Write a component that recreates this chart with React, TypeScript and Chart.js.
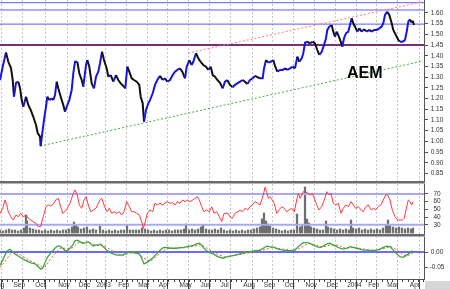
import React, { useEffect, useRef } from "react";
import { Chart, registerables } from "chart.js";

Chart.register(...registerables);

// x unit: trading-session index starting mid-August 2002
const monthTickDays = [-8.9, 12, 33.7, 56.7, 77.3, 95, 116.7, 136.7, 157.3, 178, 199, 219, 241.7, 262.3, 283.3, 304, 325, 345.7, 366.7, 385.7, 408.3];
const monthLabels = ["Aug", "Sep", "Oct", "Nov", "Dec", "2003", "Feb", "Mar", "Apr", "May", "Jun", "Jul", "Aug", "Sep", "Oct", "Nov", "Dec", "2004", "Feb", "Mar", "Apr"];

const priceTicks = [0.85, 0.9, 0.95, 1.0, 1.05, 1.1, 1.15, 1.2, 1.25, 1.3, 1.35, 1.4, 1.45, 1.5, 1.55, 1.6];
const rsiTicks = [30, 40, 50, 60, 70];
const macdTicks = [-0.05, 0];

const pricePoints: [number, number][] = [
  [0, 1.287], [2.7, 1.349], [5, 1.396], [6, 1.415], [8.3, 1.372], [11, 1.343], [12.7, 1.287], [14, 1.209], [16, 1.273], [18.3, 1.279], [20, 1.25], [21.7, 1.193], [23.3, 1.162], [26, 1.209], [28.3, 1.17], [30.7, 1.147], [33.3, 1.115], [36, 1.077], [37.7, 1.039], [40, 1.022], [40.7, 0.978], [42.3, 1.039], [44, 1.1], [46, 1.162], [47.3, 1.209], [49.3, 1.193], [51.7, 1.201], [53.3, 1.193], [55, 1.217], [56.7, 1.279], [58.3, 1.248], [60.7, 1.209], [63.3, 1.17], [65, 1.139], [66.7, 1.162], [69.3, 1.193], [71.7, 1.24], [73.3, 1.318], [75, 1.372], [77.3, 1.372], [79.3, 1.318], [81.7, 1.287], [83.3, 1.256], [86, 1.357], [87.3, 1.38], [89.3, 1.349], [91.7, 1.271], [94, 1.248], [96, 1.302], [98.3, 1.326], [100, 1.365], [102, 1.419], [104, 1.38], [106.7, 1.341], [108.3, 1.302], [110.7, 1.31], [113.3, 1.279], [116, 1.31], [118.3, 1.287], [120.7, 1.271], [123.3, 1.259], [125.3, 1.248], [127.3, 1.349], [129.3, 1.326], [131.7, 1.295], [134, 1.287], [136.7, 1.279], [139.3, 1.264], [140.7, 1.209], [142.7, 1.178], [144, 1.092], [146, 1.147], [148.3, 1.178], [150, 1.193],
  [152.7, 1.225], [155, 1.264], [157.3, 1.287], [160, 1.306], [162.7, 1.287], [165, 1.295], [167.3, 1.279], [170, 1.287], [172.7, 1.31], [175, 1.326], [177.3, 1.334], [180, 1.341], [182.3, 1.326], [185, 1.295], [186.7, 1.349], [189.3, 1.38], [191.7, 1.357], [193.3, 1.372], [196, 1.412], [198.3, 1.388], [200.7, 1.372], [203.3, 1.357], [206, 1.349], [208.3, 1.334], [210.7, 1.349], [212.7, 1.31], [215, 1.302], [217.3, 1.287], [220, 1.274], [222.7, 1.248], [225, 1.279], [227.3, 1.287], [230, 1.264], [232.7, 1.253], [235, 1.264], [237.3, 1.271], [240, 1.279], [242.7, 1.287], [245, 1.279], [247.3, 1.268], [250, 1.287], [252.7, 1.295], [255, 1.306], [257.3, 1.3], [260, 1.295], [262.7, 1.295], [264, 1.341], [266, 1.38], [268.3, 1.368], [270.7, 1.372], [273.3, 1.38], [275.3, 1.349], [277.3, 1.326], [280, 1.334], [282.7, 1.334], [285, 1.341], [287.3, 1.334], [290, 1.341], [292.7, 1.349], [295, 1.341], [297.3, 1.396], [299.3, 1.372],
  [301.7, 1.388], [303.3, 1.412], [305, 1.461], [307.3, 1.466], [310, 1.458], [312.7, 1.466], [315, 1.458], [317.3, 1.427], [319.3, 1.404], [321.7, 1.419], [324, 1.45], [326, 1.482], [327.3, 1.521], [329.3, 1.536], [331.7, 1.544], [333.3, 1.513], [335, 1.489], [336.7, 1.513], [338.3, 1.497], [340.7, 1.466], [342.3, 1.442], [344, 1.482], [346, 1.505], [348.3, 1.513], [350, 1.544], [351.7, 1.575], [353.3, 1.552], [355, 1.536], [357.3, 1.513], [359.3, 1.528], [361.7, 1.513], [364, 1.524], [366.7, 1.513], [369.3, 1.521], [371.7, 1.513], [374, 1.521], [376.7, 1.521], [379.3, 1.528], [381.7, 1.536], [383.3, 1.552], [385, 1.591], [387.3, 1.606], [389.3, 1.591], [391.7, 1.552], [393.3, 1.521], [395, 1.505], [396.7, 1.489], [398.3, 1.474], [400, 1.466], [402.7, 1.466], [405, 1.474], [406.7, 1.513], [408.3, 1.559], [410, 1.57], [411.7, 1.555], [412.7, 1.564], [414, 1.544],
];

const resistanceLevels = [1.648, 1.614, 1.548];
const supportLevel = 1.45;
const upperTrendDays = [188, 423];
const upperTrendValues = [1.413, 1.653];
const lowerTrendDays = [40, 423];
const lowerTrendValues = [0.978, 1.376];

const rsiPoints: [number, number][] = [
  [0, 44.8], [2.7, 51.4], [5, 62.2], [6.7, 55.7], [8.3, 46.9], [10.7, 40.4], [13.3, 36.1], [16, 42.6], [18.3, 40.4], [20.7, 44.8], [23.3, 40.4], [26, 42.6], [28.3, 38.3], [30.7, 36.1], [33.3, 33.9], [36, 31.8], [38.3, 27.4], [40.7, 27.4], [42.7, 38.3], [44.3, 44.8], [46, 53.5], [48.3, 55.7], [50.7, 54.4], [53.3, 57], [56, 62.2], [58.3, 64.4], [60.7, 53.5], [62.7, 44.8], [65, 46.9], [67.3, 51.4], [70, 57.9], [72.7, 68.7], [75, 75.2], [77.3, 68.7], [79.3, 55.7], [81.7, 51.4], [84, 62.2], [86, 66.5], [88.3, 55.7], [90.7, 46.9], [93.3, 49.2], [96, 51.4], [98.3, 57.9], [100, 62.2], [101.7, 64.4], [104, 55.7], [106.7, 46.9], [109.3, 51.4], [111.7, 44.8], [114, 46.9], [116.7, 44.8], [119.3, 46.9], [121.7, 42.6], [124, 46.9], [126.7, 60], [129.3, 53.5], [131.7, 46.9], [134, 46.9], [136.7, 44.8], [139.3, 42.6], [141.7, 33.9], [143.3, 25.3], [145.3, 33.9], [147.3, 44.8], [150, 49.2], [152.7, 46.9], [155, 57.9], [157.3, 55.7], [160, 57.9], [162.7, 55.7], [165, 57.9], [167.3, 60], [170, 57.9], [172.7, 58.7], [175, 55.7], [177.3, 60], [180, 57.9], [182.7, 62.2], [185, 60], [187.3, 62.2], [190, 60], [192.7, 62.2], [195, 64.4], [197.3, 66.5], [199.3, 62.2], [201.7, 53.5], [204, 46.9], [206.7, 49.2], [209.3, 46.9], [211.7, 53.5], [214, 44.8], [216.7, 46.9], [219.3, 40.4], [221.7, 33.9], [224, 44.8],
  [227.7, 44.8], [230, 40.4], [232.3, 38.3], [235, 44.8], [237.7, 46.9], [240, 49.2], [242.3, 46.9], [245, 51.4], [247.7, 49.2], [250, 53.5], [252.3, 55.7], [255, 60], [257.7, 57.9], [260, 55.7], [261.7, 62.2], [263.3, 68.7], [265, 78.7], [266.7, 73], [268.3, 64.4], [270, 66.5], [272.3, 62.2], [274.3, 57.9], [276.7, 44.8], [279, 49.2], [281.7, 53.5], [284.3, 51.4], [286.7, 46.9], [289, 49.2], [291.7, 51.4], [294.3, 46.9], [296.7, 62.2], [298.3, 70.9], [300, 64.4], [301.7, 68.7], [303.3, 73], [305, 73], [307.7, 70.9], [310, 68.7], [312.3, 70.9], [314.3, 64.4], [316.7, 55.7], [319, 49.2], [321.7, 53.5], [324.3, 62.2], [326.7, 73], [329, 68.7], [331, 70.9], [333.3, 57.9], [335.7, 55.7], [338.3, 57.9], [341, 44.8], [343.3, 51.4], [345.7, 55.7], [348.3, 53.5], [351, 60], [353.3, 55.7], [355.7, 51.4], [358.3, 53.5], [361, 49.2], [363.3, 46.9], [365.7, 53.5], [368.3, 55.7], [371, 49.2], [373.3, 51.4], [375.7, 49.2], [378.3, 53.5], [381, 55.7], [383.3, 62.2], [385.7, 68.7], [387.7, 68.7], [390, 62.2], [392.3, 49.2], [395, 40.4], [397.7, 36.1], [400, 36.1], [402.3, 36.1], [404.3, 38.3], [406.7, 53.5], [408.3, 62.2], [410, 60], [411.7, 55.7], [413, 60],
];
const rsiLevels = [70, 30];

// volume (arbitrary units)
const volumePoints: [number, number][] = [
  [0, 3], [3, 2], [6, 3], [9, 4], [12, 3], [15, 3], [18, 2], [21, 3], [24, 5], [26, 18], [27, 12], [30, 5], [33, 4], [36, 3], [39, 3], [42, 2], [45, 3], [48, 2], [51, 3], [54, 2], [57, 3], [60, 2], [63, 3], [66, 3], [69, 4], [72, 6], [74, 11], [76, 8], [78, 6], [81, 4], [84, 5], [87, 6], [90, 3], [93, 4], [96, 3], [100, 7], [103, 3], [106, 2], [109, 3], [112, 2], [115, 3], [118, 2], [121, 3], [124, 3], [127, 8], [130, 3], [133, 3], [136, 3], [139, 3], [142, 5], [145, 4], [148, 3], [151, 2], [154, 3], [157, 2], [160, 3], [163, 2], [166, 3], [169, 3], [172, 2], [175, 3], [178, 3], [181, 3], [184, 4], [186, 9], [189, 3], [192, 4], [195, 3], [198, 4], [201, 6], [203, 8], [206, 4], [209, 3], [212, 3], [215, 4], [218, 3], [221, 5], [224, 3],
  [227, 2], [230, 3], [233, 2], [236, 3], [239, 2], [242, 3], [245, 2], [248, 3], [251, 3], [254, 4], [257, 5], [260, 6], [262, 14], [264, 20], [266, 12], [268, 9], [270, 7], [273, 5], [276, 4], [279, 3], [282, 2], [285, 3], [288, 2], [291, 3], [294, 3], [297, 19], [300, 6], [302, 7], [305, 46], [307, 14], [309, 10], [311, 6], [314, 5], [317, 4], [320, 3], [323, 3], [326, 12], [328, 6], [331, 5], [334, 4], [337, 3], [340, 4], [343, 3], [346, 4], [349, 3], [351, 13], [353, 5], [356, 4], [359, 5], [362, 3], [365, 4], [368, 3], [371, 4], [374, 3], [377, 4], [380, 3], [383, 5], [386, 8], [388, 13], [390, 7], [393, 6], [396, 5], [399, 6], [402, 5], [405, 4], [408, 5], [411, 4], [413, 5],
];

const macdPoints: [number, number][] = [
  [0, -0.042], [2.7, -0.026], [5, -0.01], [7.3, 0.004], [10, 0.009], [12.7, 0.001], [15, -0.006], [18.3, -0.013], [21.7, -0.02], [25, -0.026], [28.3, -0.031], [31.7, -0.036], [35, -0.038], [38.3, -0.047], [40.7, -0.055], [42.7, -0.052], [45, -0.034], [47.3, -0.017], [50, -0.006], [52.7, 0.004], [55, 0.012], [57.3, 0.019], [60, 0.019], [62.7, 0.012], [65, 0.004], [67.3, 0.004], [70, 0.012], [72.7, 0.022], [75, 0.036], [77.3, 0.038], [80, 0.033], [82.7, 0.028], [86, 0.03], [88.3, 0.033], [90.7, 0.026], [93.3, 0.019], [96, 0.022], [98.3, 0.022], [100.7, 0.025], [103.3, 0.017], [106.7, 0.006], [110, -0.002], [113.3, -0.006], [116.7, -0.01], [120, -0.01], [123.3, -0.01], [126.7, -0.002], [129.3, 0.001], [131.7, -0.002], [134, -0.002], [136.7, -0.004], [139.3, -0.006], [141.7, -0.02], [144, -0.038], [146.7, -0.034], [150, -0.026], [153.3, -0.017], [156.7, -0.006], [160, 0.006], [163.3, 0.014], [166.7, 0.015], [170, 0.012], [173.3, 0.012], [176.7, 0.012], [180, 0.014], [183.3, 0.014], [186.7, 0.017], [190, 0.019], [193.3, 0.021], [196.7, 0.026], [199.3, 0.028], [201.7, 0.022], [204, 0.012], [206.7, 0.004], [210, -0.002], [213.3, -0.006], [216.7, -0.013], [220, -0.017], [223.3, -0.02],
  [225, -0.017], [230, -0.013], [235, -0.01], [240, -0.006], [245, -0.002], [250, 0.001], [255, 0.004], [260, 0.006], [263.3, 0.012], [266.7, 0.019], [270, 0.017], [274.3, 0.015], [278.3, 0.009], [283.3, 0.006], [288.3, 0.004], [293.3, 0.004], [296.7, 0.012], [300, 0.022], [303.3, 0.03], [306.7, 0.03], [310, 0.028], [313.3, 0.022], [316.7, 0.017], [320, 0.014], [323.3, 0.019], [326.7, 0.026], [330, 0.028], [333.3, 0.022], [336.7, 0.017], [340, 0.012], [343.3, 0.009], [346.7, 0.012], [350, 0.017], [353.3, 0.015], [356.7, 0.012], [360, 0.009], [363.3, 0.006], [366.7, 0.006], [371.7, 0.004], [376.7, 0.006], [380, 0.009], [383.3, 0.015], [386.7, 0.019], [390, 0.017], [393.3, 0.006], [396.7, -0.006], [400, -0.015], [403.3, -0.017], [406.7, -0.01], [410, -0.002], [412.3, 0.004],
];

const signalPoints: [number, number][] = [
  [0, -0.05], [5, -0.03], [10, -0.008], [14, 0.002], [20, -0.008], [28, -0.025], [36, -0.036], [42, -0.048], [46, -0.045], [50, -0.025], [55, -0.005], [60, 0.012], [66, 0.012], [72, 0.012], [78, 0.03], [84, 0.03], [90, 0.03], [96, 0.022], [102, 0.022], [108, 0.012], [114, 0], [120, -0.008], [126, -0.008], [132, -0.002], [138, -0.004], [144, -0.02], [150, -0.03], [156, -0.015], [162, 0.002], [168, 0.012], [175, 0.012], [185, 0.014], [195, 0.019], [201, 0.024], [207, 0.012], [213, 0], [219, -0.01], [225, -0.016], [240, -0.008], [255, 0.001], [265, 0.008], [272, 0.015], [285, 0.008], [295, 0.005], [302, 0.016], [308, 0.027], [315, 0.024], [322, 0.016], [330, 0.022], [338, 0.022], [345, 0.012], [352, 0.014], [360, 0.012], [370, 0.006], [378, 0.006], [385, 0.012], [391, 0.017], [397, 0.006], [403, -0.01], [409, -0.01], [413, -0.003],
];
const macdZero = 0;

const X_MIN = 0;
const X_MAX = 424;

const toXY = (pts: [number, number][]) => pts.map(([x, y]) => ({ x, y }));
const hLine = (v: number) => [{ x: X_MIN, y: v }, { x: X_MAX, y: v }];
const twoPoint = (xs: number[], ys: number[]) => xs.map((x, i) => ({ x, y: ys[i] }));

const FONT = "'Liberation Sans', Arial, sans-serif";

const panelPlugin = {
  id: "panelPlugin",
  afterLayout(chart: any) {
    const r = chart.scales.yR;
    const v = chart.scales.yV;
    if (r && v) {
      v.top = r.top;
      v.bottom = r.bottom;
      v.height = r.bottom - r.top;
      v.configure();
    }
  },
  beforeDraw(chart: any) {
    const { ctx, width, height } = chart;
    ctx.save();
    ctx.fillStyle = "#ffffff";
    ctx.fillRect(0, 0, width, height);
    ctx.restore();
  },
  afterDatasetsDraw(chart: any) {
    const { ctx, chartArea: a, scales, width, height } = chart;
    ctx.save();
    [scales.yP.bottom, scales.yR.bottom].forEach((y: number) => {
      ctx.fillStyle = "#6a6a6a";
      ctx.fillRect(a.left, Math.round(y) - 1, a.right - a.left + 1, 2);
      ctx.fillStyle = "#b4b4b4";
      ctx.fillRect(a.left, Math.round(y) + 1, a.right - a.left + 1, 1);
    });
    const xs = scales.x;
    ctx.strokeStyle = "#444";
    ctx.lineWidth = 1;
    ctx.beginPath();
    for (let d = 2; d < X_MAX; d += 5.2) {
      const px = Math.round(xs.getPixelForValue(d)) + 0.5;
      ctx.moveTo(px, xs.top);
      ctx.lineTo(px, xs.top + 3);
    }
    ctx.stroke();
    ctx.fillStyle = "#d6d6d6";
    ctx.fillRect(a.right + 1, a.bottom + 2, width - a.right - 1, height - a.bottom - 2);
    ctx.restore();
  },
};

export default function App() {
  const ref = useRef<HTMLCanvasElement>(null);
  useEffect(() => {
    if (!ref.current) return;
    Chart.defaults.font.family = FONT;
    Chart.defaults.font.size = 6.5;
    Chart.defaults.color = "#333";

    const lineBase = { pointRadius: 0, pointHoverRadius: 0, tension: 0, fill: false, borderCapStyle: "butt" as const };

    const datasets: any[] = [
      {
        ...lineBase, type: "line", label: "AEM", data: toXY(pricePoints), yAxisID: "yP", borderWidth: 2, order: 0,
        borderColor: "#1515e8",
        segment: { borderColor: (c: any) => (c.p1.parsed.y >= c.p0.parsed.y ? "#1515e8" : "#111111") },
      },
      { ...lineBase, type: "line", data: twoPoint(upperTrendDays, upperTrendValues), yAxisID: "yP", borderColor: "#ff7a7a", borderWidth: 1, borderDash: [2, 2], order: 4 },
      { ...lineBase, type: "line", data: twoPoint(lowerTrendDays, lowerTrendValues), yAxisID: "yP", borderColor: "#44b044", borderWidth: 1, borderDash: [2, 2], order: 4 },
      ...resistanceLevels.map((v) => ({ ...lineBase, type: "line", data: hLine(v), yAxisID: "yP", borderColor: "#5c5cff", borderWidth: 1, order: 6 })),
      { ...lineBase, type: "line", data: hLine(supportLevel), yAxisID: "yP", borderColor: "#76307a", borderWidth: 2, order: 5 },
      { ...lineBase, type: "line", label: "RSI", data: toXY(rsiPoints), yAxisID: "yR", borderColor: "#ff3a3a", borderWidth: 1, order: 1 },
      ...rsiLevels.map((v) => ({ ...lineBase, type: "line", data: hLine(v), yAxisID: "yR", borderColor: "#a8a8f4", borderWidth: 2, order: 6 })),
      { type: "bar", label: "Volume", data: toXY(volumePoints), yAxisID: "yV", backgroundColor: "#6f6f6f", borderWidth: 0, barThickness: 1.6, order: 7, clip: 0 },
      { ...lineBase, type: "line", label: "MACD", data: toXY(macdPoints), yAxisID: "yM", borderColor: "#3aa83a", borderWidth: 1.3, order: 1 },
      { ...lineBase, type: "line", label: "Signal", data: toXY(signalPoints), yAxisID: "yM", borderColor: "#ff4a4a", borderWidth: 1, borderDash: [2, 2], order: 2 },
      { ...lineBase, type: "line", data: hLine(macdZero), yAxisID: "yM", borderColor: "#3a3aff", borderWidth: 1.5, order: 6 },
    ];

    const yCommon = (ticks: number[], pad: number, fmt: (v: number) => string) => ({
      type: "linear",
      position: "right",
      stack: "panels",
      offset: false,
      afterBuildTicks: (s: any) => { s.ticks = ticks.map((value) => ({ value })); },
      afterFit: (s: any) => { s.width = 26; s.paddingTop = 0; s.paddingBottom = 0; },
      grid: { drawOnChartArea: false, drawTicks: true, tickLength: 4, tickColor: "#555" },
      border: { display: true, color: "#555", width: 1 },
      ticks: {
        autoSkip: false, padding: pad, crossAlign: "center", z: 1, callback: (v: any) => fmt(Number(v)),
        font: { size: 6.5, family: FONT }, color: "#333",
      },
    });

    const chart = new Chart(ref.current, {
      type: "line",
      data: { datasets },
      plugins: [panelPlugin],
      options: {
        animation: false,
        responsive: false,
        devicePixelRatio: 1,
        layout: { padding: 0 },
        plugins: { legend: { display: false }, tooltip: { enabled: false }, title: { display: false } },
        events: [],
        scales: {
          x: {
            type: "linear",
            position: "bottom",
            min: X_MIN,
            max: X_MAX,
            offset: false,
            afterBuildTicks: (s: any) => { s.ticks = monthTickDays.map((value) => ({ value })); },
            afterFit: (s: any) => { s.height = 10; s.paddingLeft = 0; s.paddingRight = 0; },
            grid: { color: "#c6c6c6", lineWidth: 1, drawTicks: true, tickLength: 10, tickColor: "#444", tickWidth: 1 },
            border: { display: true, color: "#555", width: 1, dash: [2, 2] },
            ticks: {
              autoSkip: false, maxRotation: 0, minRotation: 0, align: "start", labelOffset: 1.5, padding: -8,
              callback: (_v: any, i: number) => monthLabels[i],
              font: { size: 6.5, family: FONT }, color: "#333",
            },
          },
          yP: { ...yCommon(priceTicks, 2.7, (v) => v.toFixed(2)), min: 0.8103, max: 1.6607, stackWeight: 182 },
          yR: { ...yCommon(rsiTicks, 5.4, (v) => String(Math.round(v))), min: 16.6, max: 85.6, stackWeight: 53 },
          yM: { ...yCommon(macdTicks, 1.6, (v) => v.toFixed(2)), min: -0.0864, max: 0.0544, stackWeight: 44 },
          yV: { type: "linear", position: "left", display: false, min: -2, max: 51 },
        },
      } as any,
    } as any);
    return () => chart.destroy();
  }, []);

  return (
    <div style={{ position: "fixed", left: 0, top: 0, width: 450, height: 289, overflow: "hidden", background: "#fff" }}>
      <canvas ref={ref} width={450} height={289} style={{ display: "block", width: 450, height: 289 }} />
      <div
        style={{
          position: "absolute", left: 347, top: 65, fontFamily: FONT, fontWeight: "bold", fontSize: 16, lineHeight: "16px",
          color: "#000", pointerEvents: "none", whiteSpace: "nowrap",
        }}
      >
        AEM
      </div>
    </div>
  );
}
